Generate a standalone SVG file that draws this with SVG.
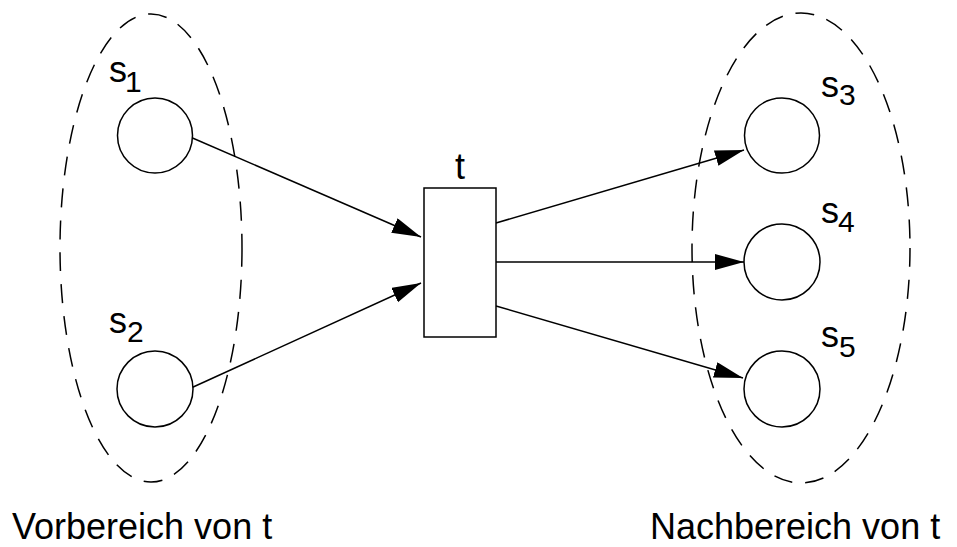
<svg xmlns="http://www.w3.org/2000/svg" width="957" height="547" viewBox="0 0 957 547">
<style>
.bg{fill:#fff}
.region{fill:none;stroke:#000;stroke-width:1.5;stroke-dasharray:19 13}
.place{fill:#fff;stroke:#000;stroke-width:1.5}
.trans{fill:#fff;stroke:#000;stroke-width:1.5}
.arc{stroke:#000;stroke-width:1.5;fill:none;marker-end:url(#ah)}
text{font-family:"Liberation Sans",Arial,sans-serif;fill:#000}
.lbl{font-size:36px}
.sub{font-size:30px}
.cap{font-size:36px}
</style>
<defs>
<marker id="ah" markerUnits="userSpaceOnUse" markerWidth="30" markerHeight="18" refX="29" refY="8" orient="auto">
<path d="M0,0 L29,8 L0,16 z" fill="#000"/>
</marker>
</defs>
<rect class="bg" x="0" y="0" width="957" height="547"/>
<g id="vorbereich">
<ellipse class="region" cx="151" cy="248" rx="91" ry="234"/>
<text class="cap" x="12" y="539">Vorbereich von t</text>
</g>
<g id="nachbereich">
<ellipse class="region" cx="801" cy="248" rx="109" ry="235"/>
<text class="cap" x="650" y="539">Nachbereich von t</text>
</g>
<g id="connectors">
<line class="arc" x1="192.5" y1="138" x2="421" y2="237"/>
<line class="arc" x1="191" y1="388" x2="421" y2="283"/>
<line class="arc" x1="496" y1="223" x2="744" y2="150"/>
<line class="arc" x1="496" y1="262" x2="744" y2="262"/>
<line class="arc" x1="496" y1="306" x2="743" y2="378"/>
</g>
<g id="s1">
<circle class="place" cx="155" cy="135.5" r="37.5"/>
<text class="lbl" x="109" y="82">s</text><text class="sub" x="125" y="92">1</text>
</g>
<g id="s2">
<circle class="place" cx="155" cy="389" r="38"/>
<text class="lbl" x="109" y="333">s</text><text class="sub" x="127" y="342">2</text>
</g>
<g id="t">
<rect class="trans" x="424" y="188" width="72" height="149"/>
<text class="lbl" x="460" y="179" text-anchor="middle">t</text>
</g>
<g id="s3">
<circle class="place" cx="782" cy="135.5" r="37.5"/>
<text class="lbl" x="821" y="97">s</text><text class="sub" x="839" y="105">3</text>
</g>
<g id="s4">
<circle class="place" cx="782" cy="262" r="38"/>
<text class="lbl" x="821" y="223">s</text><text class="sub" x="838" y="232">4</text>
</g>
<g id="s5">
<circle class="place" cx="782" cy="389" r="38"/>
<text class="lbl" x="821" y="347">s</text><text class="sub" x="839" y="357">5</text>
</g>
</svg>
